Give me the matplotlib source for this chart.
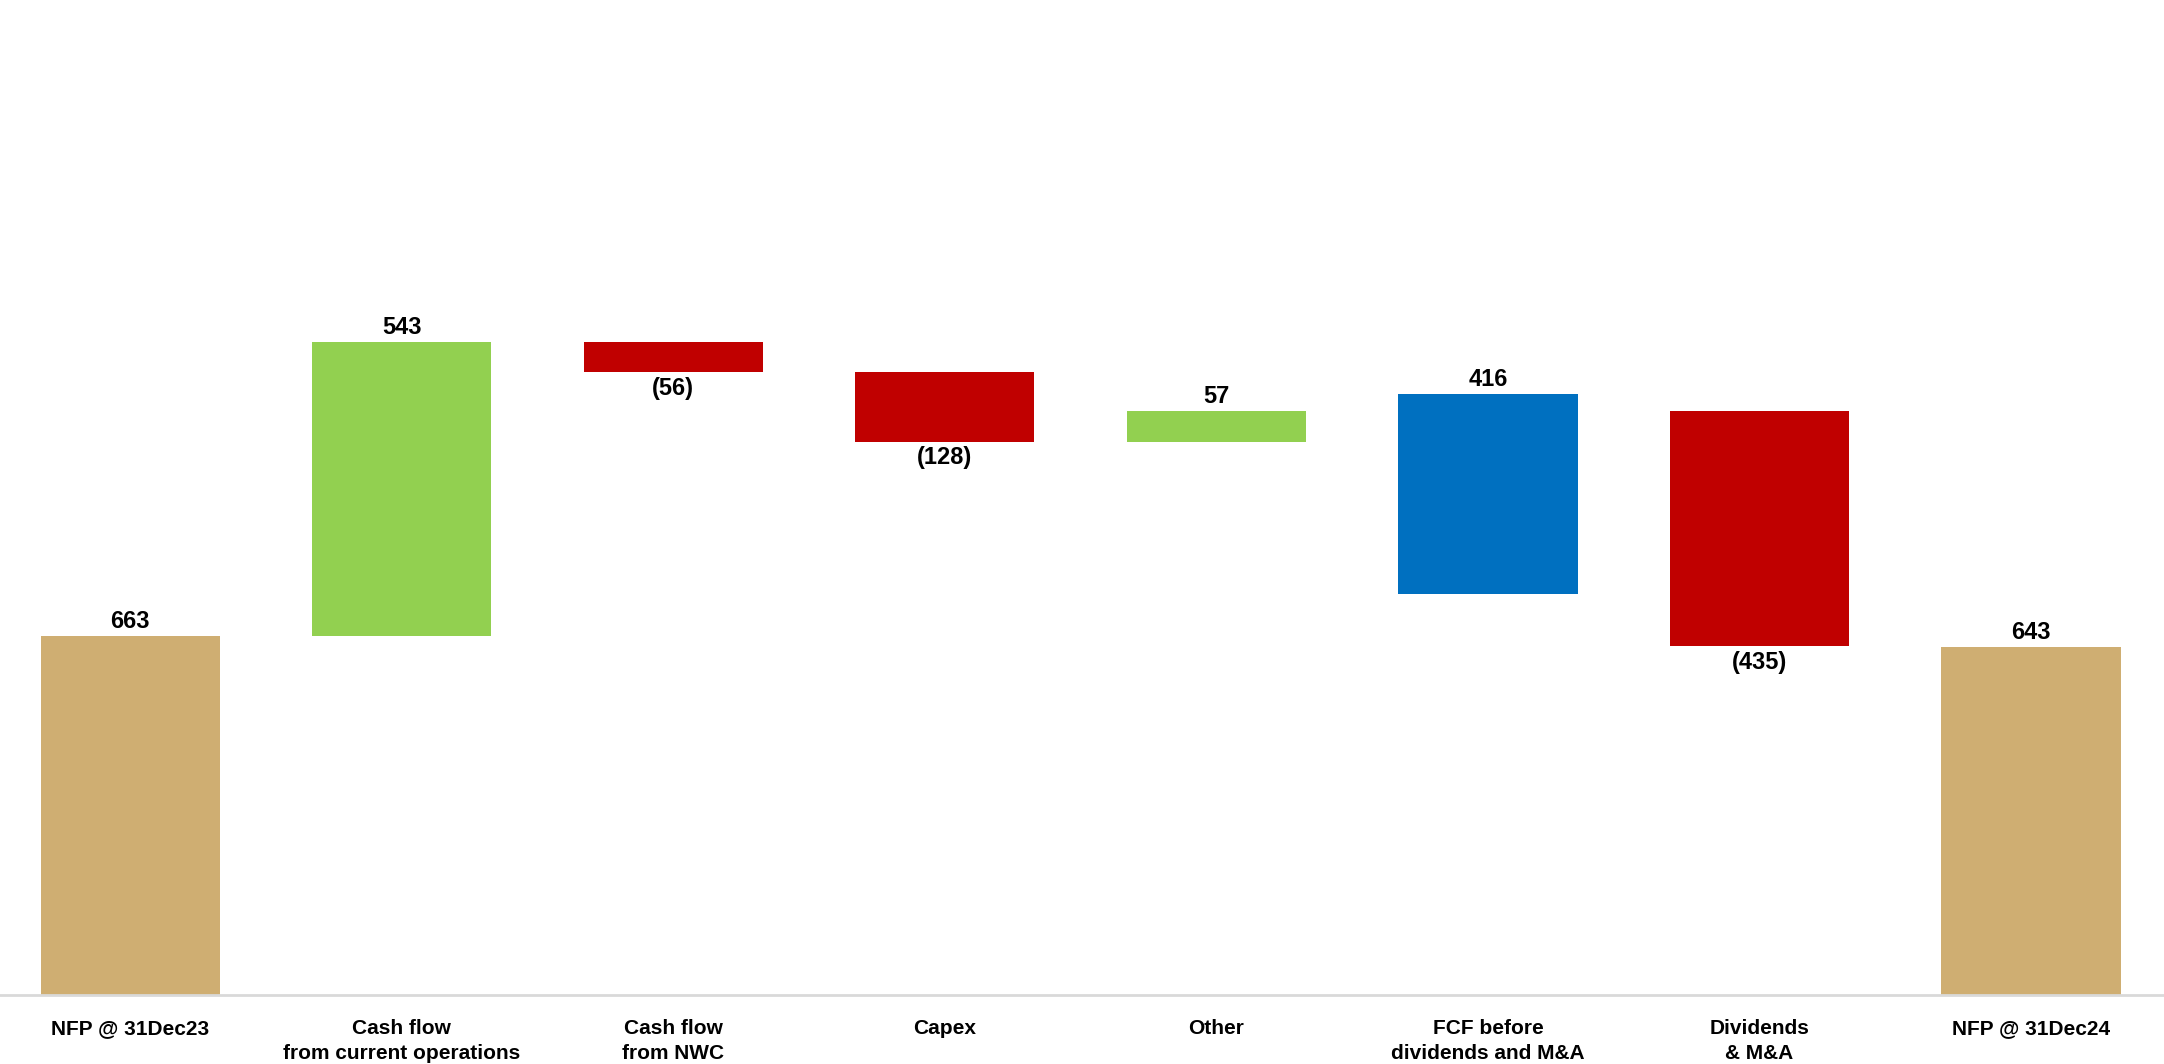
import numpy as np
import matplotlib.pyplot as plt

plt.rcParams['font.family'] = ['Liberation Sans', 'DejaVu Sans']

# Data
categories = ['NFP @ 31Dec23', 'Cash flow\nfrom current operations', 'Cash flow\nfrom NWC',
              'Capex', 'Other', 'FCF before\ndividends and M&A', 'Dividends\n& M&A', 'NFP @ 31Dec24']
values = [663, 543, -56, -128, 57, 416, -435, 643]
kinds = ['total', 'step', 'step', 'step', 'step', 'subtotal', 'step', 'total']
# the FCF bar as drawn in the source (floats, not tied to the running sum)
fcf_span = (740, 1110)

colors = {'total': '#CFAE72', 'pos': '#92D050', 'neg': '#C00000', 'subtotal': '#0070C0'}

# Build floating bars
bottoms, heights, cols = [], [], []
running = 0
for v, k in zip(values, kinds):
    if k == 'total':
        bottoms.append(0); heights.append(v); cols.append(colors['total'])
        running = v
    elif k == 'subtotal':
        bottoms.append(fcf_span[0]); heights.append(fcf_span[1] - fcf_span[0])
        cols.append(colors['subtotal'])
    else:
        if v >= 0:
            bottoms.append(running); heights.append(v); cols.append(colors['pos'])
        else:
            bottoms.append(running + v); heights.append(-v); cols.append(colors['neg'])
        running += v

fig = plt.figure(figsize=(21.64, 10.64), dpi=100)
ax = fig.add_axes([0, 0.0648, 1, 0.9352])

x = np.arange(len(categories))
ax.bar(x, heights, bottom=bottoms, width=0.66, color=cols, edgecolor='none')

for xi, v, b, h in zip(x, values, bottoms, heights):
    if v >= 0:
        ax.annotate(f'{v}', (xi, b + h), xytext=(0, 2), textcoords='offset points',
                    ha='center', va='bottom', fontsize=17, fontweight='bold')
    else:
        ax.annotate(f'({-v})', (xi, b), xytext=(0, -3), textcoords='offset points',
                    ha='center', va='top', fontsize=17, fontweight='bold')

ax.set_xlim(-0.48, 7.49)
ax.set_ylim(0, 1838)
ax.set_yticks([])
ax.set_xticks(x)
ax.set_xticklabels(categories, fontsize=15, fontweight='bold', linespacing=1.4, va='top')
ax.tick_params(axis='x', length=0, pad=17)
for s in ['top', 'right', 'left']:
    ax.spines[s].set_visible(False)
ax.spines['bottom'].set_color('#d9d9d9')
ax.spines['bottom'].set_linewidth(2)

fig.savefig('out.png', dpi=100)
